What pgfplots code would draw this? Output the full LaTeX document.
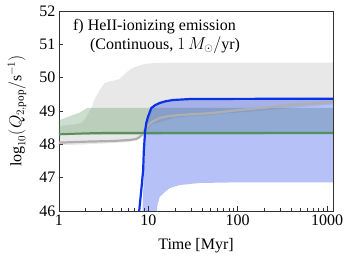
\documentclass[border=0pt]{standalone}
\usepackage{pgfplots}
\pgfplotsset{compat=1.18}
\usepackage{fontspec}
\setmainfont{Liberation Serif}

\definecolor{bl}{RGB}{10,50,230}
\definecolor{gr}{RGB}{85,145,88}
\definecolor{gy}{RGB}{128,128,128}
\definecolor{gl}{RGB}{175,175,175}
\definecolor{ax}{RGB}{50,50,50}

\begin{document}
\begin{tikzpicture}
\begin{axis}[
  scale only axis, width=274pt, height=200pt,
  xmode=log, xmin=1, xmax=1166, ymin=46, ymax=52,
  xtick={1,10,100,1000}, xticklabels={1,10,100,1000},
  minor xtick={2,3,4,5,6,7,8,9,20,30,40,50,60,70,80,90,200,300,400,500,600,700,800,900},
  ytick={46,47,48,49,50,51,52},
  tick align=inside, xtick pos=left, ytick pos=left,
  major tick length=4.5pt, minor tick length=2.5pt,
  axis line style={ax, line width=0.8pt},
  every tick/.style={ax, line width=0.8pt},
  font=\fontsize{16}{19}\selectfont,
  /pgf/number format/assume math mode=true,
  xlabel={Time [Myr]},
  ylabel={$\log_{10}(Q_{2,\mathrm{pop}}/\mathrm{s}^{-1})$},
  xlabel style={at={(axis description cs:0.5,-0.175)}, anchor=center},
  ylabel style={at={(axis description cs:-0.153,0.5)}, anchor=center},
]
% gray band
\addplot[draw=none, fill=gy, fill opacity=0.18] coordinates {
 (1,48.55) (1.5,48.6) (1.8,48.65) (2.0,48.8) (2.15,48.95) (2.34,49.12) (2.5,49.35) (2.73,49.54) (3.0,49.72) (3.26,49.84) (3.6,49.88) (3.91,49.9) (4.8,49.96) (5.2,50.05) (5.75,50.17) (6.4,50.26) (7.06,50.32) (8,50.37) (9.1,50.41) (11.8,50.44) (20,50.45) (1166,50.45)
 (1166,49.2) (100,48.95) (20,48.8) (11,48.6) (9.1,48.35) (8,48.15) (6,48.07) (4,48.04) (2,48.0) (1,47.97)
} -- cycle;
% green band
\addplot[draw=none, fill=gr, fill opacity=0.3] coordinates {
 (1,48.72) (1.2,48.8) (1.43,48.88) (1.7,48.95) (2.06,49.09) (1166,49.09) (1166,48.3) (1,48.28)
} -- cycle;
% blue band
\addplot[draw=none, fill=bl, fill opacity=0.3] coordinates {
 (8.6,46) (9.0,47.5) (9.3,48.4) (9.9,48.82) (10.8,49.09) (12,49.18) (13.4,49.24) (15.5,49.29) (18.8,49.33) (30,49.36) (1166,49.37)
 (1166,46.86) (100,46.86) (37.6,46.84) (22.5,46.78) (17.4,46.69) (15.3,46.57) (13.4,46.42) (12.7,46.2) (12.4,46.0)
} -- cycle;
% gray line
\addplot[gl, line width=2.2pt] coordinates {
 (1,48.05) (2,48.08) (4,48.1) (6.2,48.13) (7.3,48.16) (8,48.22) (8.6,48.31) (9.1,48.43) (10,48.57) (11,48.68) (13.4,48.79) (17,48.85) (22.5,48.88) (52,48.94) (105,49.03) (200,49.1) (380,49.18) (700,49.23) (1166,49.27)
};
% green line
\addplot[gr, line width=2pt] coordinates {
 (1,48.3) (2,48.33) (3,48.34) (1166,48.34)
};
% blue line
\addplot[bl, line width=2.2pt] coordinates {
 (7.8,45.8) (7.9,46.0) (8.4,46.72) (8.75,47.23) (8.9,47.8) (9.2,48.4) (9.5,48.65) (9.9,48.82) (10.8,49.09) (12,49.18) (13.4,49.24) (15.5,49.29) (18.8,49.33) (30,49.36) (1166,49.37)
};
\node[anchor=west, inner sep=0pt] at (rel axis cs:0.051,0.92) {f)\ HeII-ionizing emission};
\node[anchor=west, inner sep=0pt] at (rel axis cs:0.113,0.83) {(Continuous, $1\,M_\odot/\mathrm{yr}$)};
\coordinate (SW) at (rel axis cs:0,0);
\coordinate (NE) at (rel axis cs:1,1);
\end{axis}
\pgfresetboundingbox
\path ([shift={(-59pt,-54pt)}]SW) rectangle ([shift={(16pt,11pt)}]NE);
\end{tikzpicture}
\end{document}
